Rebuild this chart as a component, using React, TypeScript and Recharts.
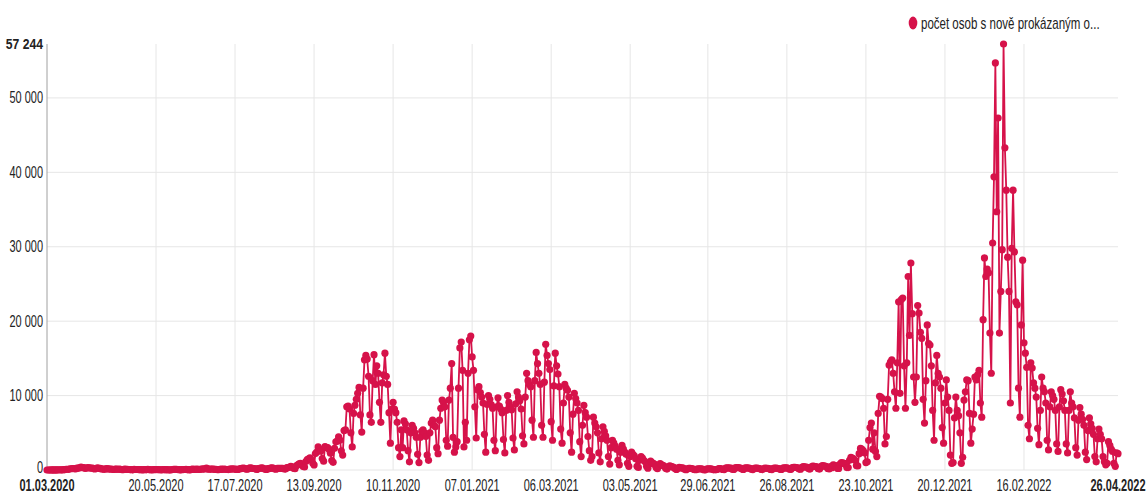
import React from 'react';
import { LineChart, Line, XAxis, YAxis, CartesianGrid, Legend } from 'recharts';

const SERIES_NAME = 'počet osob s nově prokázaným o...';
const RED = '#d6124a';

// daily values from 01.03.2020 (Sunday) to 26.04.2022, one row per week (Sun..Sat)
const cases: number[] = [
  3, 0, 2, 5, 7, 6, 5,
  8, 13, 32, 30, 28, 50, 52,
  87, 100, 87, 169, 171, 190, 197,
  163, 240, 265, 294, 373, 308, 317,
  221, 268, 310, 297, 256, 262, 231,
  146, 204, 302, 222, 218, 142, 128,
  88, 144, 178, 154, 130, 136, 100,
  68, 135, 108, 102, 113, 96, 62,
  44, 106, 83, 76, 68, 53, 42,
  22, 85, 70, 66, 54, 52, 38,
  17, 58, 41, 62, 82, 52, 31,
  14, 58, 46, 62, 55, 46, 31,
  17, 54, 63, 40, 37, 31, 27,
  19, 66, 76, 102, 87, 68, 40,
  21, 58, 56, 64, 74, 58, 37,
  27, 80, 115, 73, 92, 108, 92,
  65, 118, 108, 162, 136, 260, 163,
  102, 106, 134, 127, 89, 73, 44,
  62, 78, 108, 96, 131, 98, 65,
  55, 108, 118, 157, 136, 128, 83,
  71, 128, 175, 221, 264, 211, 136,
  102, 218, 294, 254, 211, 200, 154,
  83, 198, 236, 239, 273, 190, 108,
  81, 178, 181, 252, 297, 250, 174,
  102, 213, 227, 226, 224, 208, 139,
  118, 316, 328, 383, 490, 387, 251,
  183, 562, 695, 813, 895, 782, 467,
  401, 1140, 1386, 1509, 1616, 1371, 925,
  680, 2203, 2419, 3095, 2817, 2547, 1541,
  1191, 3129, 3034, 2996, 2768, 2256, 1276,
  1026, 2909, 3787, 3886, 4449, 4007, 2580,
  2000, 5300, 5400, 8500, 8600, 8200, 5000,
  3100, 7600, 8700, 9500, 10300, 11100, 7400,
  5100, 11000, 14800, 15400, 14900, 12600, 7400,
  6400, 12000, 15500, 11500, 14000, 13000, 9100,
  6400, 11700, 12800, 15700, 12600, 11500, 7700,
  3600, 8200, 9100, 8200, 7700, 6400, 3000,
  1800, 5400, 3000, 6600, 6200, 5400, 2600,
  1100, 5000, 6000, 5600, 5000, 4400, 2100,
  1000, 4400, 5200, 5400, 5000, 4500, 2000,
  1300, 5000, 6300, 6700, 6000, 5800, 3000,
  2200, 6700, 8300, 9400, 9100, 8500, 4000,
  3200, 9400, 11000, 14300, 4400, 2400, 3100,
  3800, 11000, 16400, 17200, 13400, 3100, 6400,
  4000, 13000, 17500, 18000, 15200, 13400, 8500,
  4300, 10800, 11200, 10400, 9800, 9000, 4800,
  2400, 8800, 10000, 9500, 8800, 8300, 4000,
  2600, 8500, 9700, 8600, 8200, 7700, 4100,
  2300, 8000, 10000, 9100, 8500, 8100, 4300,
  2700, 8900, 10500, 9800, 9300, 8200, 4600,
  3500, 9800, 13000, 12000, 11500, 11200, 6700,
  4400, 12000, 15800, 14300, 13000, 11500, 6000,
  4400, 11800, 16900, 15400, 14300, 13500, 6500,
  4000, 11300, 15700, 14000, 12900, 11200, 5500,
  3600, 9000, 11500, 11000, 10700, 9800, 5000,
  2400, 7500, 10300, 9600, 9000, 8000, 3800,
  1800, 6000, 8700, 7700, 7100, 4500, 2600,
  1300, 1800, 7100, 6300, 5800, 5000, 2300,
  1100, 4200, 5800, 5200, 4600, 4000, 1800,
  800, 3000, 4000, 3600, 3200, 2800, 1300,
  700, 2400, 3300, 2800, 2400, 2100, 900,
  500, 1800, 2400, 2100, 1900, 1500, 500,
  350, 1300, 1800, 1600, 1300, 1100, 500,
  250, 800, 1200, 1000, 900, 750, 350,
  170, 550, 850, 700, 620, 520, 250,
  120, 380, 550, 480, 420, 350, 160,
  80, 250, 350, 300, 280, 240, 110,
  50, 150, 230, 210, 190, 160, 70,
  40, 110, 170, 150, 140, 120, 50,
  30, 120, 160, 140, 150, 130, 60,
  40, 60, 90, 180, 190, 160, 70,
  60, 240, 300, 280, 270, 240, 110,
  80, 280, 320, 330, 300, 260, 120,
  70, 250, 300, 280, 260, 220, 100,
  60, 220, 260, 240, 220, 190, 90,
  55, 200, 240, 220, 210, 180, 80,
  60, 210, 250, 240, 230, 200, 90,
  70, 250, 300, 290, 280, 230, 100,
  90, 310, 370, 350, 330, 300, 130,
  100, 370, 450, 420, 400, 360, 160,
  120, 420, 520, 500, 470, 420, 180,
  130, 450, 600, 560, 520, 470, 200,
  140, 450, 300, 700, 640, 560, 230,
  200, 800, 1000, 950, 900, 750, 330,
  320, 1300, 1700, 1600, 1500, 1300, 600,
  550, 2200, 2900, 2800, 2600, 2300, 1000,
  1100, 4000, 5700, 6300, 2800, 5000, 2500,
  1800, 7600, 9900, 9800, 9600, 8300, 3500,
  4500, 9500, 14100, 14500, 14800, 13000, 10500,
  8300, 14400, 22600, 10300, 22900, 23100, 14000,
  8300, 14400, 26000, 18100, 27800, 21000, 12500,
  9100, 12500, 22100, 21100, 18500, 17700, 9500,
  6300, 12000, 19500, 17000, 16800, 14000, 8000,
  4000, 11700, 15400, 13000, 12500, 11000, 5700,
  3600, 9000, 12100, 9800, 8000, 2000, 900,
  1000, 7000, 9800, 8000, 7300, 5000, 900,
  1700, 9400, 10500, 12100, 12000, 7600, 3600,
  5500, 7500, 12500, 12100, 12800, 13400, 9000,
  7100, 20200, 28500, 26000, 27000, 26500, 18400,
  13000, 30500, 39400, 54700, 34700, 47300, 18400,
  24000, 29600, 57244, 43300, 37600, 28600, 24000,
  9000, 29800, 37600, 29300, 22600, 22200, 11000,
  7100, 19500, 28200, 17100, 15700, 13800, 6000,
  4200, 14400, 13700, 11700, 11000, 9800, 5600,
  3400, 8000, 12500, 11000, 10500, 9000, 4000,
  2700, 8500, 10500, 10000, 9500, 8000, 3500,
  2500, 8500, 10800, 10200, 9300, 8000, 3500,
  2300, 8000, 10500, 9000, 8500, 7000, 3000,
  2000, 6700, 8400, 7500, 6800, 6000, 2400,
  1400, 5300, 7000, 6200, 5600, 4800, 1800,
  1100, 4200, 5500, 4800, 4200, 1800, 1100,
  700, 900, 3800, 3300, 2800, 2500, 900,
  500, 2300, 2200,
];

const tickIndex = [0, 80, 138, 196, 254, 312, 370, 428, 485, 543, 601, 659, 717, 786];
const tickLabels = [
  '01.03.2020', '20.05.2020', '17.07.2020', '13.09.2020', '10.11.2020', '07.01.2021',
  '06.03.2021', '03.05.2021', '29.06.2021', '26.08.2021', '23.10.2021', '20.12.2021',
  '16.02.2022', '26.04.2022',
];
const yTicks = [0, 10000, 20000, 30000, 40000, 50000, 57244];
const yGrid = [0, 10000, 20000, 30000, 40000, 50000];

const data = cases.map((v, i) => ({ day: i, cases: v }));

const FONT = "'Liberation Sans', Arial, sans-serif";
const fmt = (v: number) => String(v).replace(/\B(?=(\d{3})+(?!\d))/g, ' ');

const XTick = (props: any) => {
  const { x, y, payload } = props;
  const i = tickIndex.indexOf(payload.value);
  const bold = i === 0 || i === tickIndex.length - 1;
  return (
    <g transform={`translate(${x},${y})`}>
      <text transform="scale(0.7,1)" textAnchor="middle" dy="0.71em" fontSize={15.7}
        fontWeight={bold ? 700 : 400} fill="#222" fontFamily={FONT}>
        {i >= 0 ? tickLabels[i] : ''}
      </text>
    </g>
  );
};

const YTick = (props: any) => {
  const { x, y, payload } = props;
  const bold = payload.value === yTicks[yTicks.length - 1];
  const dy = payload.value === 0 ? '0.2em' : '0.355em';
  return (
    <g transform={`translate(${x},${y})`}>
      <text transform={bold ? 'scale(0.8,1)' : 'scale(0.7,1)'} textAnchor="end" dy={dy}
        fontSize={bold ? 15.2 : 15.7} fontWeight={bold ? 700 : 400} fill="#222" fontFamily={FONT}>
        {fmt(payload.value)}
      </text>
    </g>
  );
};

const LegendContent = () => (
  <div style={{ height: 20, width: 1147 }}>
    <svg width={1147} height={20} style={{ display: 'block', overflow: 'visible' }}>
      <ellipse cx={913} cy={10} rx={4.3} ry={6.5} fill={RED} />
      <text transform="translate(921,15.5) scale(0.72,1)" fontSize={16} fill="#222" fontFamily={FONT}>
        {SERIES_NAME}
      </text>
    </svg>
  </div>
);

export default function App() {
  return (
    <div style={{ position: 'absolute', left: 0, top: 0, width: 1147, height: 494, background: '#fff' }}>
      <LineChart width={1147} height={494} data={data} margin={{ top: 24, right: 29, bottom: 0, left: 0 }}>
        <CartesianGrid stroke="#e6e6e6" horizontalValues={yGrid} verticalValues={tickIndex.slice(1, -1)} />
        <XAxis dataKey="day" type="number" domain={[0, 786]} ticks={tickIndex} interval={0}
          tickLine={false} axisLine={false} tickSize={0} tickMargin={10} height={24} tick={<XTick />} />
        <YAxis type="number" domain={[0, 57244]} ticks={yTicks} interval={0} tickLine={false}
          axisLine={{ stroke: '#a0a0a0' }} tickSize={0} tickMargin={4} width={47} tick={<YTick />} />
        <Legend verticalAlign="top" align="left" content={<LegendContent />}
          wrapperStyle={{ left: 0, top: 13, width: 1147, height: 20 }} />
        <Line type="linear" dataKey="cases" name={SERIES_NAME} stroke={RED} strokeWidth={1.8}
          dot={{ r: 3.6, fill: RED, stroke: RED, strokeWidth: 0 }} activeDot={false}
          isAnimationActive={false} />
      </LineChart>
    </div>
  );
}
